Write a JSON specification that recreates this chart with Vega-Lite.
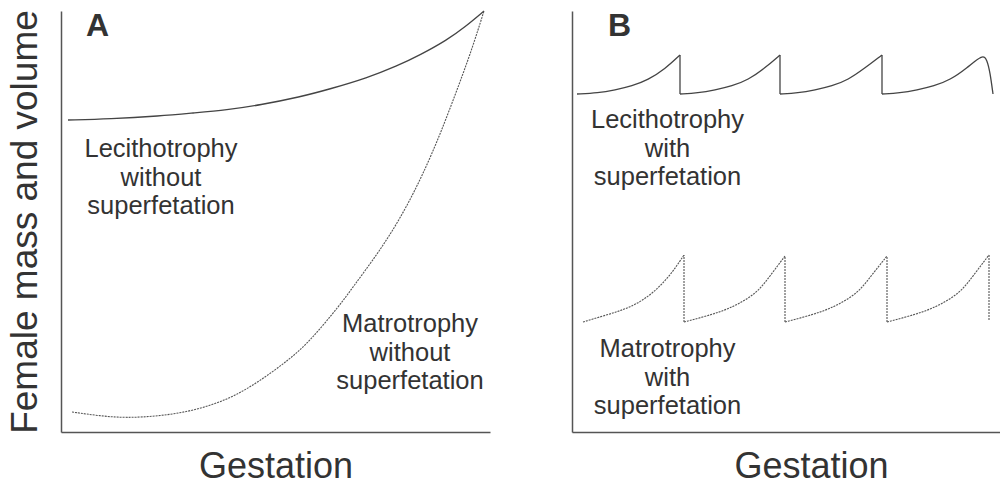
{
  "$schema": "https://vega.github.io/schema/vega-lite/v6.json",
  "padding": {"left": 6, "top": 8, "right": 0, "bottom": 0},
  "background": "white",
  "spacing": 82,
  "config": {
    "view": {"stroke": null},
    "axis": {"ticks": false, "labels": false, "grid": false, "domainColor": "#555", "domainWidth": 1.5, "titleFont": "Liberation Sans", "titleFontSize": 36, "titleFontWeight": "normal", "titleColor": "#333"},
    "text": {"font": "Liberation Sans", "color": "#333"}
  },
  "datasets": {
    "a_lines": [
      {"series": "leci", "i": 1, "x": 7, "y": 312},
      {"series": "leci", "i": 2, "x": 49, "y": 313},
      {"series": "leci", "i": 3, "x": 99, "y": 316},
      {"series": "leci", "i": 4, "x": 132, "y": 319},
      {"series": "leci", "i": 5, "x": 166, "y": 322},
      {"series": "leci", "i": 6, "x": 199, "y": 327},
      {"series": "leci", "i": 7, "x": 239, "y": 335},
      {"series": "leci", "i": 8, "x": 269, "y": 343},
      {"series": "leci", "i": 9, "x": 306, "y": 354},
      {"series": "leci", "i": 10, "x": 336, "y": 366},
      {"series": "leci", "i": 11, "x": 359, "y": 377},
      {"series": "leci", "i": 12, "x": 386, "y": 392},
      {"series": "leci", "i": 13, "x": 404, "y": 405},
      {"series": "leci", "i": 14, "x": 423, "y": 421},
      {"series": "matro", "i": 1, "x": 11, "y": 20},
      {"series": "matro", "i": 2, "x": 39, "y": 16},
      {"series": "matro", "i": 3, "x": 66, "y": 14},
      {"series": "matro", "i": 4, "x": 99, "y": 16},
      {"series": "matro", "i": 5, "x": 132, "y": 21},
      {"series": "matro", "i": 6, "x": 169, "y": 33},
      {"series": "matro", "i": 7, "x": 199, "y": 51},
      {"series": "matro", "i": 8, "x": 229, "y": 73},
      {"series": "matro", "i": 9, "x": 249, "y": 91},
      {"series": "matro", "i": 10, "x": 279, "y": 127},
      {"series": "matro", "i": 11, "x": 292, "y": 145},
      {"series": "matro", "i": 12, "x": 312, "y": 172},
      {"series": "matro", "i": 13, "x": 329, "y": 197},
      {"series": "matro", "i": 14, "x": 346, "y": 226},
      {"series": "matro", "i": 15, "x": 362, "y": 258},
      {"series": "matro", "i": 16, "x": 379, "y": 297},
      {"series": "matro", "i": 17, "x": 399, "y": 350},
      {"series": "matro", "i": 18, "x": 411, "y": 383},
      {"series": "matro", "i": 19, "x": 423, "y": 421}
    ],
    "b_teeth": [
      {"series": "leci", "tooth": 1, "i": 1, "x": 5, "y": 338},
      {"series": "leci", "tooth": 1, "i": 2, "x": 26, "y": 339},
      {"series": "leci", "tooth": 1, "i": 3, "x": 43, "y": 342},
      {"series": "leci", "tooth": 1, "i": 4, "x": 60, "y": 346},
      {"series": "leci", "tooth": 1, "i": 5, "x": 76, "y": 352},
      {"series": "leci", "tooth": 1, "i": 6, "x": 93, "y": 363},
      {"series": "leci", "tooth": 1, "i": 7, "x": 108, "y": 377},
      {"series": "leci", "tooth": 2, "i": 1, "x": 108, "y": 338},
      {"series": "leci", "tooth": 2, "i": 2, "x": 126, "y": 339},
      {"series": "leci", "tooth": 2, "i": 3, "x": 143, "y": 342},
      {"series": "leci", "tooth": 2, "i": 4, "x": 160, "y": 346},
      {"series": "leci", "tooth": 2, "i": 5, "x": 176, "y": 352},
      {"series": "leci", "tooth": 2, "i": 6, "x": 193, "y": 364},
      {"series": "leci", "tooth": 2, "i": 7, "x": 208, "y": 377},
      {"series": "leci", "tooth": 3, "i": 1, "x": 208, "y": 338},
      {"series": "leci", "tooth": 3, "i": 2, "x": 226, "y": 339},
      {"series": "leci", "tooth": 3, "i": 3, "x": 243, "y": 342},
      {"series": "leci", "tooth": 3, "i": 4, "x": 260, "y": 346},
      {"series": "leci", "tooth": 3, "i": 5, "x": 276, "y": 352},
      {"series": "leci", "tooth": 3, "i": 6, "x": 293, "y": 364},
      {"series": "leci", "tooth": 3, "i": 7, "x": 310, "y": 377},
      {"series": "leci", "tooth": 4, "i": 1, "x": 310, "y": 338},
      {"series": "leci", "tooth": 4, "i": 2, "x": 328, "y": 339},
      {"series": "leci", "tooth": 4, "i": 3, "x": 345, "y": 342},
      {"series": "leci", "tooth": 4, "i": 4, "x": 362, "y": 346},
      {"series": "leci", "tooth": 4, "i": 5, "x": 378, "y": 352},
      {"series": "leci", "tooth": 4, "i": 6, "x": 395, "y": 364},
      {"series": "leci", "tooth": 4, "i": 7, "x": 411, "y": 378},
      {"series": "leci", "tooth": 4, "i": 8, "x": 415, "y": 372},
      {"series": "leci", "tooth": 4, "i": 9, "x": 418, "y": 360},
      {"series": "leci", "tooth": 4, "i": 10, "x": 421, "y": 338},
      {"series": "matro", "tooth": 1, "i": 1, "x": 11, "y": 110},
      {"series": "matro", "tooth": 1, "i": 2, "x": 31, "y": 116},
      {"series": "matro", "tooth": 1, "i": 3, "x": 48, "y": 121},
      {"series": "matro", "tooth": 1, "i": 4, "x": 65, "y": 128},
      {"series": "matro", "tooth": 1, "i": 5, "x": 81, "y": 139},
      {"series": "matro", "tooth": 1, "i": 6, "x": 98, "y": 156},
      {"series": "matro", "tooth": 1, "i": 7, "x": 112, "y": 177},
      {"series": "matro", "tooth": 2, "i": 1, "x": 112, "y": 110},
      {"series": "matro", "tooth": 2, "i": 2, "x": 131, "y": 115},
      {"series": "matro", "tooth": 2, "i": 3, "x": 148, "y": 120},
      {"series": "matro", "tooth": 2, "i": 4, "x": 165, "y": 127},
      {"series": "matro", "tooth": 2, "i": 5, "x": 185, "y": 139},
      {"series": "matro", "tooth": 2, "i": 6, "x": 198, "y": 156},
      {"series": "matro", "tooth": 2, "i": 7, "x": 213, "y": 176},
      {"series": "matro", "tooth": 3, "i": 1, "x": 213, "y": 110},
      {"series": "matro", "tooth": 3, "i": 2, "x": 232, "y": 115},
      {"series": "matro", "tooth": 3, "i": 3, "x": 249, "y": 120},
      {"series": "matro", "tooth": 3, "i": 4, "x": 266, "y": 127},
      {"series": "matro", "tooth": 3, "i": 5, "x": 286, "y": 139},
      {"series": "matro", "tooth": 3, "i": 6, "x": 299, "y": 156},
      {"series": "matro", "tooth": 3, "i": 7, "x": 315, "y": 176},
      {"series": "matro", "tooth": 4, "i": 1, "x": 315, "y": 110},
      {"series": "matro", "tooth": 4, "i": 2, "x": 334, "y": 115},
      {"series": "matro", "tooth": 4, "i": 3, "x": 351, "y": 120},
      {"series": "matro", "tooth": 4, "i": 4, "x": 368, "y": 127},
      {"series": "matro", "tooth": 4, "i": 5, "x": 388, "y": 139},
      {"series": "matro", "tooth": 4, "i": 6, "x": 401, "y": 156},
      {"series": "matro", "tooth": 4, "i": 7, "x": 417, "y": 177}
    ],
    "b_drops": [
      {"series": "leci", "x": 108, "y": 338, "y2": 377},
      {"series": "leci", "x": 208, "y": 338, "y2": 377},
      {"series": "leci", "x": 310, "y": 338, "y2": 377},
      {"series": "matro", "x": 112, "y": 110, "y2": 177},
      {"series": "matro", "x": 213, "y": 110, "y2": 176},
      {"series": "matro", "x": 315, "y": 110, "y2": 176},
      {"series": "matro", "x": 417, "y": 112, "y2": 177}
    ],
    "a_labels": [
      {"x": 100, "y": 275, "label": "Lecithotrophy\nwithout\nsuperfetation"},
      {"x": 349, "y": 100, "label": "Matrotrophy\nwithout\nsuperfetation"}
    ],
    "b_labels": [
      {"x": 95.5, "y": 304, "label": "Lecithotrophy\nwith\nsuperfetation"},
      {"x": 95.5, "y": 75, "label": "Matrotrophy\nwith\nsuperfetation"}
    ],
    "a_letter": [{"x": 25, "y": 396, "label": "A"}],
    "b_letter": [{"x": 36, "y": 396, "label": "B"}]
  },
  "hconcat": [
    {
      "width": 429,
      "height": 421,
      "encoding": {
        "x": {"field": "x", "type": "quantitative", "scale": {"domain": [0, 429], "nice": false, "zero": false}, "axis": {"title": "Gestation", "titlePadding": 17}},
        "y": {"field": "y", "type": "quantitative", "scale": {"domain": [0, 421], "nice": false, "zero": false}, "axis": {"title": "Female mass and volume", "titlePadding": 17, "titleFontSize": 37}}
      },
      "layer": [
        {
          "data": {"name": "a_lines"},
          "transform": [{"filter": "datum.series === 'leci'"}],
          "mark": {"type": "line", "interpolate": "basis", "stroke": "#444", "strokeWidth": 1.3},
          "encoding": {"order": {"field": "i", "type": "quantitative"}}
        },
        {
          "data": {"name": "a_lines"},
          "transform": [{"filter": "datum.series === 'matro'"}],
          "mark": {"type": "line", "interpolate": "basis", "stroke": "#555", "strokeWidth": 1.1, "strokeDash": [2, 1]},
          "encoding": {"order": {"field": "i", "type": "quantitative"}}
        },
        {
          "data": {"name": "a_labels"},
          "mark": {"type": "text", "fontSize": 25.5, "align": "center", "baseline": "alphabetic", "lineBreak": "\n", "lineHeight": 28.5},
          "encoding": {"text": {"field": "label", "type": "nominal"}}
        },
        {
          "data": {"name": "a_letter"},
          "mark": {"type": "text", "fontSize": 32, "fontWeight": "bold", "align": "left", "baseline": "alphabetic"},
          "encoding": {"text": {"field": "label", "type": "nominal"}}
        }
      ]
    },
    {
      "width": 428,
      "height": 421,
      "encoding": {
        "x": {"field": "x", "type": "quantitative", "scale": {"domain": [0, 428], "nice": false, "zero": false}, "axis": {"title": "Gestation", "titlePadding": 17, "titleX": 239}},
        "y": {"field": "y", "type": "quantitative", "scale": {"domain": [0, 421], "nice": false, "zero": false}, "axis": {"title": null}}
      },
      "layer": [
        {
          "data": {"name": "b_teeth"},
          "transform": [{"filter": "datum.series === 'leci'"}],
          "mark": {"type": "line", "interpolate": "basis", "stroke": "#444", "strokeWidth": 1.3},
          "encoding": {"detail": {"field": "tooth", "type": "nominal"}, "order": {"field": "i", "type": "quantitative"}}
        },
        {
          "data": {"name": "b_teeth"},
          "transform": [{"filter": "datum.series === 'matro'"}],
          "mark": {"type": "line", "interpolate": "basis", "stroke": "#555", "strokeWidth": 1.1, "strokeDash": [2, 1]},
          "encoding": {"detail": {"field": "tooth", "type": "nominal"}, "order": {"field": "i", "type": "quantitative"}}
        },
        {
          "data": {"name": "b_drops"},
          "transform": [{"filter": "datum.series === 'leci'"}],
          "mark": {"type": "rule", "stroke": "#444", "strokeWidth": 1.3},
          "encoding": {"y2": {"field": "y2"}}
        },
        {
          "data": {"name": "b_drops"},
          "transform": [{"filter": "datum.series === 'matro'"}],
          "mark": {"type": "rule", "stroke": "#555", "strokeWidth": 1.1, "strokeDash": [2, 1]},
          "encoding": {"y2": {"field": "y2"}}
        },
        {
          "data": {"name": "b_labels"},
          "mark": {"type": "text", "fontSize": 25.5, "align": "center", "baseline": "alphabetic", "lineBreak": "\n", "lineHeight": 28.5},
          "encoding": {"text": {"field": "label", "type": "nominal"}}
        },
        {
          "data": {"name": "b_letter"},
          "mark": {"type": "text", "fontSize": 32, "fontWeight": "bold", "align": "left", "baseline": "alphabetic"},
          "encoding": {"text": {"field": "label", "type": "nominal"}}
        }
      ]
    }
  ]
}
